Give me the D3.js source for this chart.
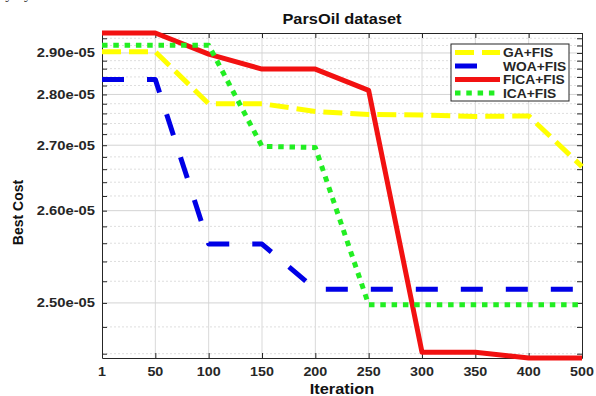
<!DOCTYPE html>
<html><head><meta charset="utf-8">
<script src="https://cdn.jsdelivr.net/npm/d3@7"></script>
<style>body{margin:0;background:#fff}svg{display:block}</style>
</head><body><svg id="c" width="596" height="396"></svg>
<script>
// ---- data ----
const iterations = ["1","50","100","150","200","250","300","350","400","500"];
const gaFis   = [2.903e-5, 2.903e-5, 2.780e-5, 2.780e-5, 2.764e-5, 2.758e-5, 2.757e-5, 2.754e-5, 2.755e-5, 2.664e-5];
const woaFis  = [2.834e-5, 2.834e-5, 2.559e-5, 2.559e-5, 2.5125e-5, 2.5125e-5, 2.5125e-5, 2.5125e-5, 2.5125e-5, 2.5125e-5];
const ficaFis = [2.955e-5, 2.955e-5, 2.897e-5, 2.859e-5, 2.859e-5, 2.809e-5, 2.461e-5, 2.461e-5, 2.457e-5, 2.457e-5];
const icaFis  = [2.921e-5, 2.921e-5, 2.921e-5, 2.698e-5, 2.696e-5, 2.4985e-5, 2.4985e-5, 2.4985e-5, 2.4985e-5, 2.4985e-5];
const seriesNames = ["GA+FIS", "WOA+FIS", "FICA+FIS", "ICA+FIS"];
const yTickValues = [2.5e-5, 2.6e-5, 2.7e-5, 2.8e-5, 2.9e-5];
const yTickLabels = ["2.50e-05", "2.60e-05", "2.70e-05", "2.80e-05", "2.90e-05"];
const titleText = "ParsOil dataset";
const xLabel = "Iteration";
const yLabel = "Best Cost";

// ---- layout / style ----
const L = 102, R = 582, T = 33, B = 358;
const offset = 2.3e-5;
const styles = [
  {color: "#ffff00", dash: "19,8", width: 5},
  {color: "#0000e6", dash: "22,23", width: 5},
  {color: "#f21111", dash: null, width: 5},
  {color: "#22ee22", dash: "5.5,5.8", width: 5}
];
const allSeries = [gaFis, woaFis, ficaFis, icaFis];
const font = "'Liberation Sans', Arial, Helvetica, sans-serif";

const svg = d3.select("#c");

const x = d3.scalePoint().domain(iterations).range([L, R]).padding(0);
const ext = d3.extent(allSeries.flat());
const yLog = d3.scaleLog().domain([ext[0] - offset, ext[1] - offset]).range([B, T]);
const y = v => yLog(v - offset);

// clipped caption text at top (from source document)
svg.append("text").attr("x", -4).attr("y", -1.5)
  .attr("font-family", "'Liberation Serif', 'Times New Roman', serif").attr("font-size", 15)
  .attr("fill", "#333").text("rly by the FICA+FIS and other methods on the ParsOil dataset");

// minor tick values
const yMinor = d3.range(123, 148).filter(k => k % 5 !== 0).map(k => k * 2e-7);

// grid
const g = svg.append("g");
g.selectAll(".vg").data(iterations.slice(1, -1)).join("line")
  .attr("x1", d => x(d)).attr("x2", d => x(d)).attr("y1", T).attr("y2", B)
  .attr("stroke", "#d9d9d9").attr("stroke-width", 1);
g.selectAll(".mg").data(yMinor).join("line")
  .attr("x1", L).attr("x2", R).attr("y1", d => y(d)).attr("y2", d => y(d))
  .attr("stroke", "#dedede").attr("stroke-width", 1).attr("stroke-dasharray", "2,2");
g.selectAll(".hg").data(yTickValues).join("line")
  .attr("x1", L).attr("x2", R).attr("y1", d => y(d)).attr("y2", d => y(d))
  .attr("stroke", "#d4d4d4").attr("stroke-width", 1);

// axes (inward ticks on all four sides)
const axisCol = "#262626";
function styleAxis(sel) {
  sel.select(".domain").attr("stroke", axisCol);
  sel.selectAll(".tick line").attr("stroke", axisCol);
}
const xAxisB = svg.append("g").attr("transform", `translate(0,${B})`)
  .call(d3.axisBottom(x).tickSizeInner(-5).tickSizeOuter(0).tickFormat(""));
styleAxis(xAxisB);
const xAxisT = svg.append("g").attr("transform", `translate(0,${T})`)
  .call(d3.axisTop(x).tickSizeInner(-5).tickSizeOuter(0).tickFormat(""));
styleAxis(xAxisT);
const allYTicks = yTickValues.concat(yMinor).map(v => v - offset);
const yAxisL = svg.append("g").attr("transform", `translate(${L},0)`)
  .call(d3.axisLeft(yLog).tickValues(allYTicks).tickSizeInner(-5).tickSizeOuter(0).tickFormat(""));
styleAxis(yAxisL);
const yAxisR = svg.append("g").attr("transform", `translate(${R},0)`)
  .call(d3.axisRight(yLog).tickValues(allYTicks).tickSizeInner(-5).tickSizeOuter(0).tickFormat(""));
styleAxis(yAxisR);

// stretched text helper
function stext(px, py, str, size, sx, anchor, col) {
  return svg.append("text")
    .attr("transform", `translate(${px},${py}) scale(${sx},1)`)
    .attr("text-anchor", anchor).attr("font-family", font).attr("font-weight", "bold")
    .attr("font-size", size).attr("fill", col || "#262626").text(str);
}

// tick labels
yTickValues.forEach((v, i) => stext(95, y(v) + 4.5, yTickLabels[i], 12.5, 1.18, "end"));
iterations.forEach(d => stext(x(d), 376, d, 13, 1.1, "middle"));

// lines
const line = d3.line().x((d, i) => x(iterations[i])).y(d => y(d));
allSeries.forEach((s, k) => {
  svg.append("path").datum(s).attr("d", line)
    .attr("fill", "none").attr("stroke", styles[k].color)
    .attr("stroke-width", styles[k].width)
    .attr("stroke-dasharray", styles[k].dash)
    .attr("stroke-linejoin", "round");
});

// title & labels
stext((L + R) / 2, 24, titleText, 14, 1.17, "middle", "#111");
stext((L + R) / 2, 394, xLabel, 14, 1.17, "middle", "#111");
svg.append("text").attr("transform", `translate(23,${(T + B) / 2 + 17}) rotate(-90)`)
  .attr("text-anchor", "middle").attr("font-family", font).attr("font-weight", "bold")
  .attr("font-size", 14).attr("fill", "#111").text(yLabel);

// legend
const lg = svg.append("g");
lg.append("rect").attr("x", 451).attr("y", 44).attr("width", 118).attr("height", 57)
  .attr("fill", "#fff").attr("stroke", "#262626").attr("stroke-width", 1);
const rowY = d3.scalePoint().domain(seriesNames).range([52.5, 93]);
seriesNames.forEach((n, k) => {
  lg.append("line").attr("x1", 455).attr("x2", 500).attr("y1", rowY(n)).attr("y2", rowY(n))
    .attr("stroke", styles[k].color).attr("stroke-width", styles[k].width)
    .attr("stroke-dasharray", styles[k].dash);
  lg.append("text").attr("transform", `translate(503,${rowY(n) + 4.5}) scale(1.15,1)`)
    .attr("font-family", font).attr("font-weight", "bold").attr("font-size", 12)
    .attr("fill", "#262626").text(n);
});
</script></body></html>
